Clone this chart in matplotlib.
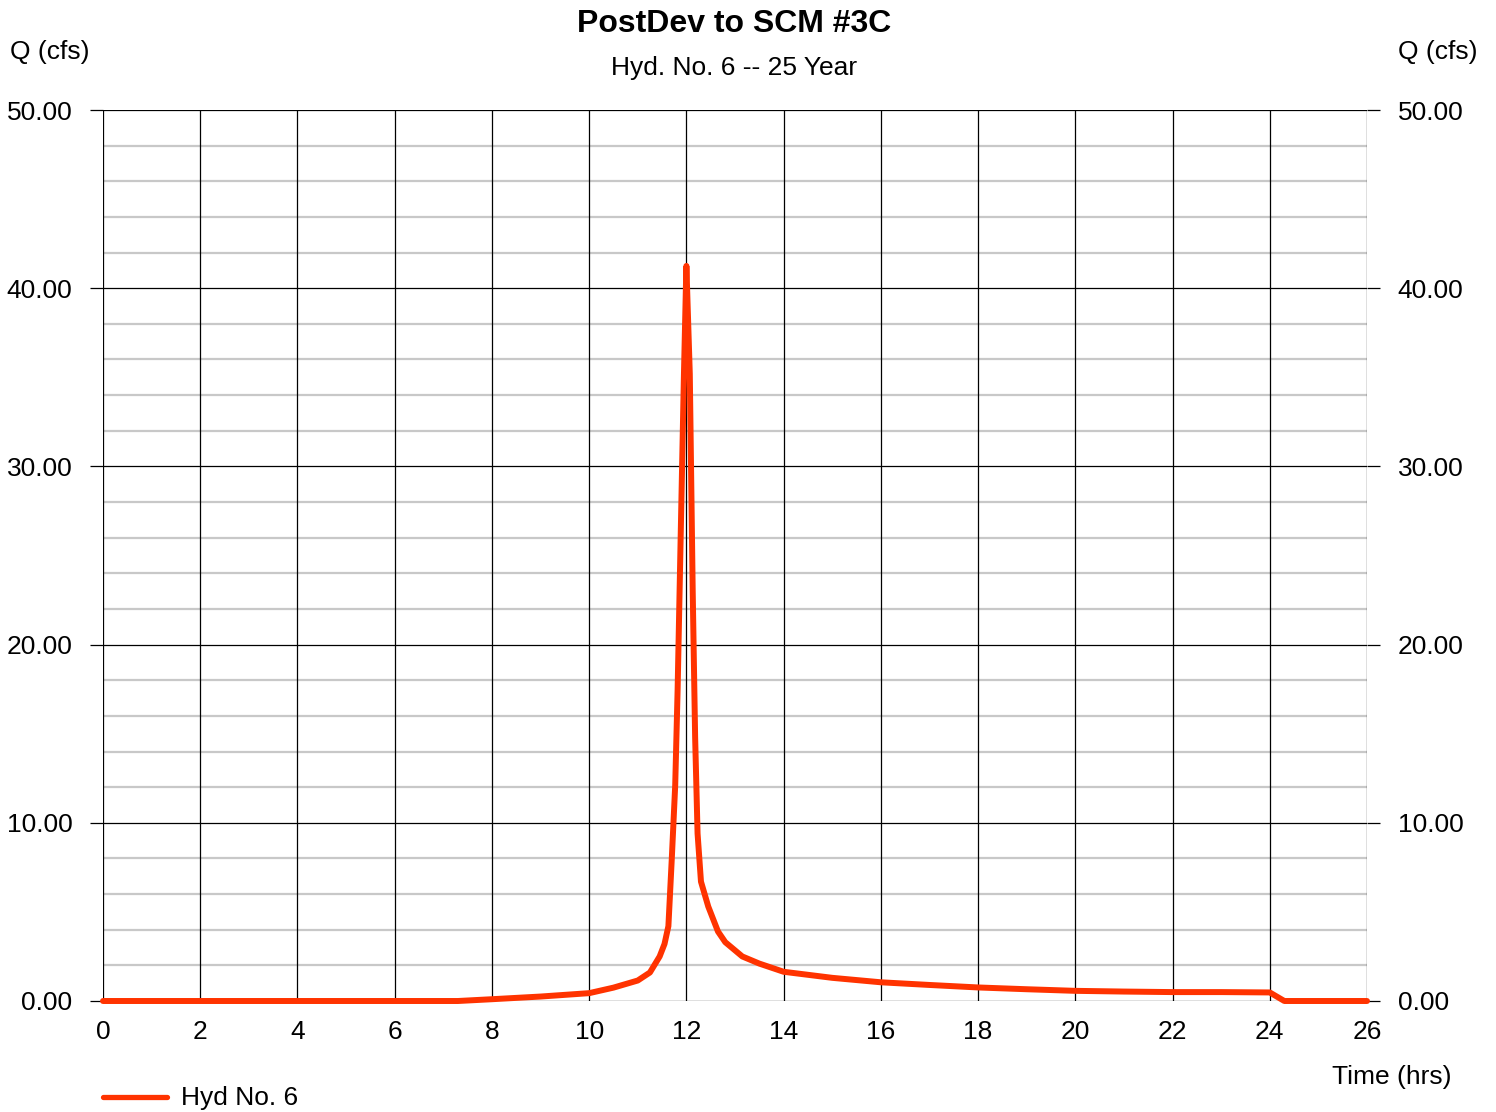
import matplotlib
matplotlib.use("Agg")
import matplotlib.pyplot as plt
from matplotlib.lines import Line2D

plt.rcParams['font.family'] = ['Liberation Sans', 'DejaVu Sans']

time_hrs = [0, 7.3, 8, 9, 10, 10.5, 11, 11.25, 11.45, 11.55, 11.63, 11.70, 11.77, 11.82,
            11.88, 11.95, 12.0, 12.07, 12.13, 12.18, 12.23, 12.30, 12.45, 12.65, 12.8,
            13.15, 13.5, 14, 15, 16, 17, 18, 19, 20, 21, 22, 23, 24, 24.3, 26]
flow_cfs = [0, 0, 0.1, 0.25, 0.44, 0.75, 1.15, 1.6, 2.5, 3.2, 4.2, 8.0, 12.1, 17.5,
            25.7, 35.2, 41.25, 35.2, 23.0, 14.8, 9.4, 6.7, 5.3, 3.9, 3.3,
            2.5, 2.1, 1.64, 1.3, 1.05, 0.9, 0.76, 0.66, 0.57, 0.53, 0.5, 0.5, 0.48, 0, 0]
x_ticks = list(range(0, 27, 2))
y_major = [0, 10, 20, 30, 40, 50]
y_minor = [v for v in range(0, 51, 2) if v % 10 != 0]

title = "PostDev to SCM #3C"
subtitle = "Hyd. No. 6 -- 25 Year"
series_label = "Hyd No. 6"
line_color = "#FF3300"

fig = plt.figure(figsize=(14.96, 11.12), dpi=100)
ax = fig.add_axes([103/1496, 1 - 1001/1112, (1367-103)/1496, (1001-110)/1112])

for v in y_minor:
    ax.axhline(v, color="#C8C8C8", lw=1.6, zorder=1)
for v in y_major:
    ax.axhline(v, color="black", lw=0.9, zorder=2)
for v in x_ticks:
    ax.axvline(v, color="black", lw=0.9, zorder=2)

ax.plot(time_hrs, flow_cfs, color=line_color, lw=4.3, solid_capstyle='round',
        solid_joinstyle='round', zorder=3, clip_on=False)

ax.set_xlim(0, 26)
ax.set_ylim(0, 50)
ax.set_xticks(x_ticks)
ax.set_xticklabels([str(v) for v in x_ticks])
ax.set_yticks(y_major)
ax.set_yticklabels([f"{v:.2f}" for v in y_major])
ax.tick_params(axis='x', length=0, pad=14, labelsize=19)
ax.tick_params(axis='y', length=9.5, width=0.9, pad=12.5, labelsize=19,
               left=True, right=True, labelleft=True, labelright=True)
for s in ax.spines.values():
    s.set_visible(False)

fig.text(734/1496, 1 - 24/1112, title, ha='center', va='center', fontsize=23, fontweight='bold')
fig.text(734/1496, 1 - 68/1112, subtitle, ha='center', va='center', fontsize=19)
fig.text(10/1496, 1 - 52/1112, "Q (cfs)", ha='left', va='center', fontsize=19)
fig.text(1477/1496, 1 - 52/1112, "Q (cfs)", ha='right', va='center', fontsize=19)
fig.text(1451/1496, 1 - 1077/1112, "Time (hrs)", ha='right', va='center', fontsize=19)

fig.add_artist(Line2D([103/1496, 167/1496], [1 - 1097/1112, 1 - 1097/1112],
                      color=line_color, lw=3.8, solid_capstyle='round',
                      transform=fig.transFigure))
fig.text(181/1496, 1 - 1098/1112, series_label, ha='left', va='center', fontsize=19)

fig.savefig("out.png", dpi=100)
